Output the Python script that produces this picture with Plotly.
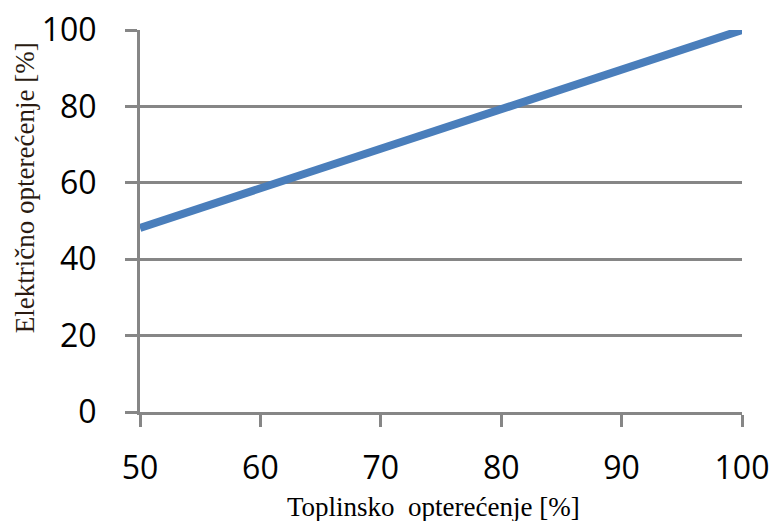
import plotly.graph_objects as go

toplinsko = [50, 60, 70, 80, 90, 100]
elektricno = [48.2, 58.6, 68.6, 79.1, 89.6, 100]
x_ticks = [50, 60, 70, 80, 90, 100]
y_ticks = [0, 20, 40, 60, 80, 100]
x_title = "Toplinsko  opterećenje [%]"
y_title = "Električno opterećenje [%]"

fig = go.Figure()
fig.add_trace(go.Scatter(x=toplinsko, y=elektricno, mode="lines",
                         line=dict(color="#4a7ebb", width=8),
                         showlegend=False, hoverinfo="skip"))

grid = "#868686"
fig.update_layout(
    width=771, height=521,
    margin=dict(l=140, r=29, t=30, b=109),
    paper_bgcolor="white", plot_bgcolor="white",
    font=dict(family="Open Sans", size=32, color="black"),
    xaxis=dict(range=[50, 100], tickvals=x_ticks, showgrid=False,
               showline=True, linecolor=grid, linewidth=3,
               ticks="outside", ticklen=12, tickwidth=3, tickcolor=grid,
               ticklabelstandoff=14, zeroline=False, automargin=False,
               tickfont=dict(family="Open Sans", size=32)),
    yaxis=dict(range=[0, 100], tickvals=y_ticks, showgrid=True,
               gridcolor=grid, gridwidth=3,
               showline=True, linecolor=grid, linewidth=3,
               ticks="outside", ticklen=12, tickwidth=3, tickcolor=grid,
               ticklabelstandoff=22, zeroline=False, automargin=False,
               tickfont=dict(family="Open Sans", size=32)),
    annotations=[
        dict(text=x_title, xref="paper", yref="paper", x=0.488, y=-0.249,
             showarrow=False, xanchor="center", yanchor="middle",
             font=dict(family="Liberation Serif", size=27, color="black")),
        dict(text=y_title, xref="paper", yref="paper", x=-0.191, y=0.586,
             showarrow=False, xanchor="center", yanchor="middle", textangle=-90,
             font=dict(family="Liberation Serif", size=27, color="#2a1a10")),
    ],
)

fig.write_html("out.html", config={"displayModeBar": False},
               post_script="document.body.style.margin='0';document.body.style.overflow='hidden';")
